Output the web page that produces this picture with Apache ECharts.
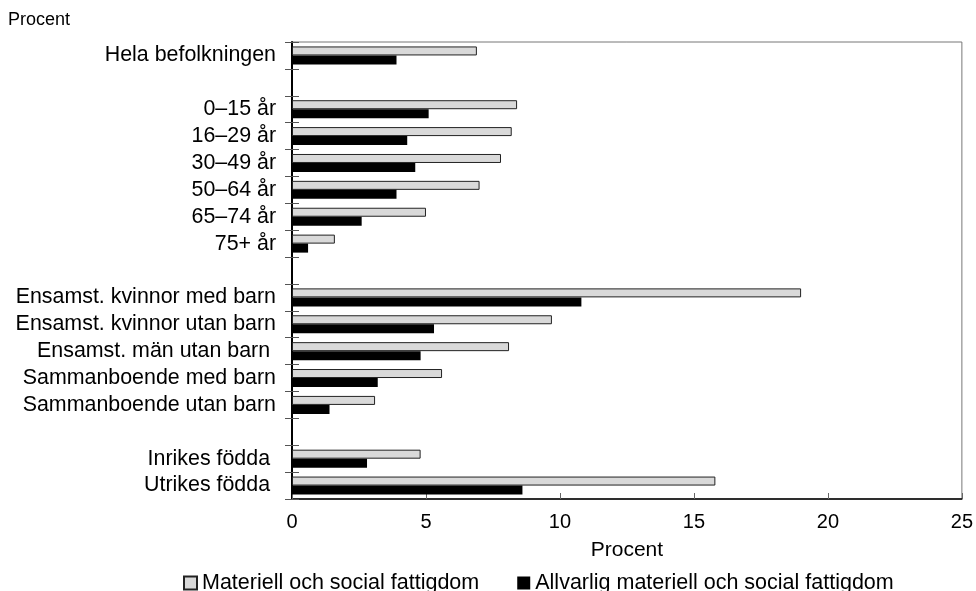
<!DOCTYPE html>
<html>
<head>
<meta charset="utf-8">
<script src="https://cdn.jsdelivr.net/npm/echarts@6/dist/echarts.min.js"></script>
<style>
html,body{margin:0;padding:0;background:#fff;}
#chart{width:976px;height:591px;}
</style>
</head>
<body>
<div id="chart"></div>
<script>
const categories = [
  'Hela befolkningen', ' ', '0–15 år', '16–29 år', '30–49 år', '50–64 år', '65–74 år', '75+ år', '  ',
  'Ensamst. kvinnor med barn', 'Ensamst. kvinnor utan barn', 'Ensamst. män utan barn ',
  'Sammanboende med barn', 'Sammanboende utan barn', '   ',
  'Inrikes födda ', 'Utrikes födda '
];
const seriesNames = ['Materiell och social fattigdom', 'Allvarlig materiell och social fattigdom'];
const materiell = [6.9, null, 8.4, 8.2, 7.8, 7.0, 5.0, 1.6, null, 19.0, 9.7, 8.1, 5.6, 3.1, null, 4.8, 15.8];
const allvarlig = [3.9, null, 5.1, 4.3, 4.6, 3.9, 2.6, 0.6, null, 10.8, 5.3, 4.8, 3.2, 1.4, null, 2.8, 8.6];
const xMin = 0, xMax = 25, xStep = 5;
const axisTitle = 'Procent';
const topTitle = 'Procent';

const font = 'Liberation Sans, Arial, sans-serif';
const chart = echarts.init(document.getElementById('chart'), null, {renderer: 'canvas'});
chart.setOption({
  animation: false,
  backgroundColor: '#fff',
  textStyle: {fontFamily: font, color: '#000'},
  title: {
    text: topTitle, left: 3, top: 6,
    textStyle: {fontFamily: font, fontSize: 18, fontWeight: 'normal', color: '#000'}
  },
  legend: {
    left: 178, top: 567,
    icon: 'rect',
    itemWidth: 13, itemHeight: 13, itemGap: 38,
    textStyle: {fontFamily: font, fontSize: 21.5, color: '#000'},
    data: seriesNames
  },
  grid: {
    left: 292, right: 13, top: 42, bottom: 92,
    show: true, borderColor: '#777', borderWidth: 1, backgroundColor: 'transparent'
  },
  xAxis: {
    type: 'value', min: xMin, max: xMax, interval: xStep,
    name: axisTitle, nameLocation: 'middle', nameGap: 41,
    nameTextStyle: {fontFamily: font, fontSize: 21, color: '#000'},
    axisLine: {show: true, lineStyle: {color: '#000', width: 1.5}},
    axisTick: {show: true, inside: true, length: 6, lineStyle: {color: '#666', width: 1}},
    axisLabel: {fontFamily: font, fontSize: 20, color: '#000', margin: 13},
    splitLine: {show: false}
  },
  yAxis: [{
    type: 'category', data: categories, inverse: true,
    axisLine: {show: true, lineStyle: {color: '#000', width: 2}},
    axisTick: {show: true, interval: 0, length: 7, lineStyle: {color: '#555', width: 1}},
    axisLabel: {interval: 0, fontFamily: font, fontSize: 21.4, color: '#000', margin: 16},
    splitLine: {show: false}
  }, {
    type: 'category', data: categories, inverse: true, position: 'left',
    axisLine: {show: false},
    axisTick: {show: true, interval: 0, inside: true, length: 7, lineStyle: {color: '#555', width: 1}},
    axisLabel: {show: false},
    splitLine: {show: false}
  }],
  series: [{
    name: seriesNames[0], type: 'bar', data: materiell, yAxisIndex: 0,
    barWidth: 9, barGap: '0%',
    itemStyle: {color: '#d9d9d9', borderColor: '#222', borderWidth: 1}
  }, {
    name: seriesNames[1], type: 'bar', data: allvarlig, yAxisIndex: 0,
    barWidth: 9, barGap: '0%',
    itemStyle: {color: '#000', borderColor: '#000', borderWidth: 0}
  }]
});
</script>
</body>
</html>
